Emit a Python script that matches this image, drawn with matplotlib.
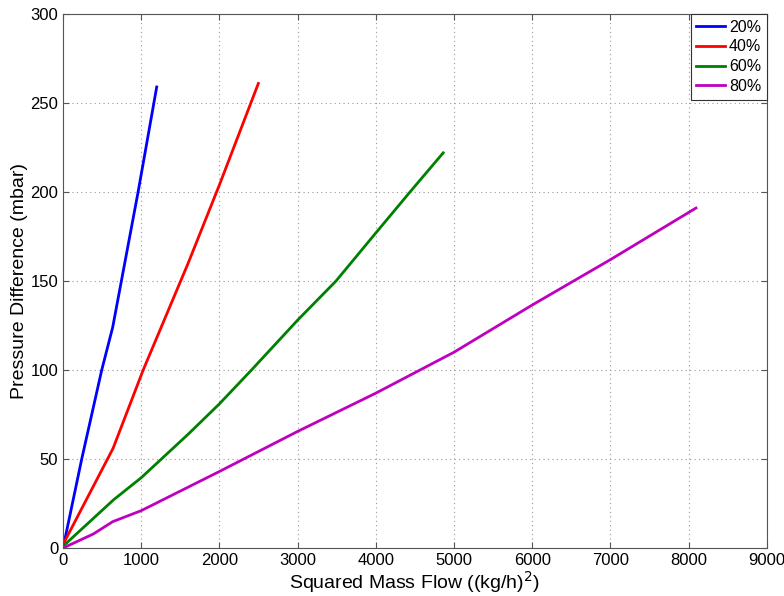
import matplotlib.pyplot as plt
import numpy as np

# ============================================================
# Data
# ============================================================
x_20 = [10, 239, 495, 635, 960, 1198]
y_20 = [2, 50, 100, 124, 200, 259]

x_40 = [0, 640, 1025, 1600, 2000, 2498]
y_40 = [2, 56, 100, 160, 204, 261]

x_60 = [0, 644, 1000, 1602, 2000, 2410, 3000, 3491, 4000, 4437, 4862]
y_60 = [1, 27, 39.5, 64, 81, 100, 128, 150, 177, 200, 222]

x_80 = [0, 388, 635, 1000, 2000, 3000, 4000, 5000, 6000, 7000, 8095]
y_80 = [0, 7.9, 14.8, 21, 43, 65.5, 87, 110, 136.5, 162, 191]

series = [
    (x_20, y_20, "20%", "#0000ff"),
    (x_40, y_40, "40%", "#ff0000"),
    (x_60, y_60, "60%", "#008000"),
    (x_80, y_80, "80%", "#bf00bf"),
]

plt.rcParams["font.family"] = ["Liberation Sans", "DejaVu Sans"]

fig = plt.figure(figsize=(7.84, 5.96), dpi=100)
ax = fig.add_axes([0.0804, 0.0805, 0.8976, 0.896])

for xs, ys, lab, col in series:
    ax.plot(xs, ys, color=col, linewidth=2, label=lab)

ax.set_xlim(0, 9000)
ax.set_ylim(0, 300)
ax.set_xticks(np.arange(0, 9001, 1000))
ax.set_yticks(np.arange(0, 301, 50))
ax.grid(True, linestyle=(0, (1, 3)), color="#999999", linewidth=0.8)
ax.tick_params(direction="in", top=True, right=True, labelsize=12, length=4,
               color="#555555")
for s in ax.spines.values():
    s.set_color("#555555")

ax.set_xlabel("Squared Mass Flow ((kg/h)$^2$)", fontsize=14, labelpad=1)
ax.set_ylabel("Pressure Difference (mbar)", fontsize=14, labelpad=2)

leg = ax.legend(loc="upper right", fontsize=11.5, fancybox=False, framealpha=1,
                borderaxespad=0, handlelength=1.8, labelspacing=0.3,
                borderpad=0.35, handletextpad=0.25)
leg.get_frame().set_edgecolor("#333333")
leg.get_frame().set_linewidth(0.8)

plt.savefig("out.png", dpi=100)
